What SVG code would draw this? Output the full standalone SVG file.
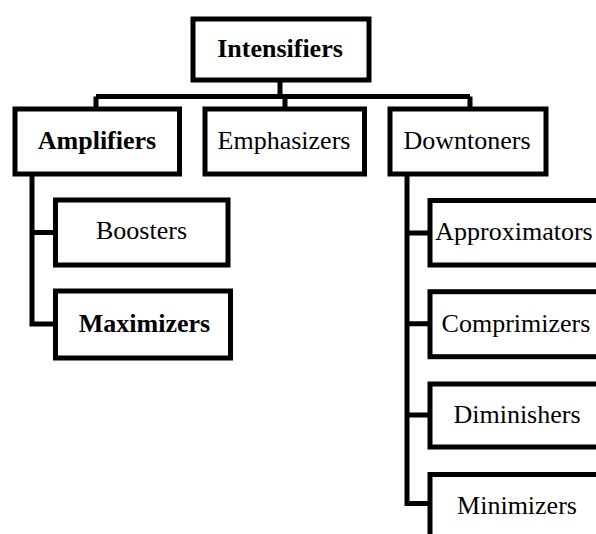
<svg xmlns="http://www.w3.org/2000/svg" width="596" height="534" viewBox="0 0 596 534">
<style>
.box{fill:#fff;stroke:#000;stroke-width:5}
.con{fill:none;stroke:#000;stroke-width:5}
text{font-family:"Liberation Serif","Times New Roman",serif;font-size:26px;fill:#000;text-anchor:middle}
.b{font-weight:bold}
</style>
<rect width="596" height="534" fill="#fff"/>
<g id="connectors">
<path class="con" d="M280 80V96.5M96 96.5H470M96 96.5V109M285 96.5V109M470 96.5V109"/>
<path class="con" d="M32 174V324H55.5M32 232.5H55.5"/>
<path class="con" d="M407 174V503.5H430M407 233H430M407 323.7H430M407 415H430"/>
</g>
<g id="intensifiers"><rect class="box" x="193" y="19" width="176" height="61"/><text class="b" x="280" y="57">Intensifiers</text></g>
<g id="amplifiers"><rect class="box" x="15" y="109" width="164.5" height="65"/><text class="b" x="97" y="148.5">Amplifiers</text></g>
<g id="emphasizers"><rect class="box" x="205" y="109" width="159.5" height="65"/><text x="284" y="148.5">Emphasizers</text></g>
<g id="downtoners"><rect class="box" x="390" y="109" width="156" height="65"/><text x="467" y="148.5">Downtoners</text></g>
<g id="boosters"><rect class="box" x="55.5" y="200" width="172.5" height="65"/><text x="141.5" y="239">Boosters</text></g>
<g id="maximizers"><rect class="box" x="55.5" y="291" width="175" height="67"/><text class="b" x="144.5" y="331.5">Maximizers</text></g>
<g id="approximators"><rect class="box" x="430" y="200.5" width="172" height="64.5"/><text x="514" y="239.5">Approximators</text></g>
<g id="comprimizers"><rect class="box" x="430" y="291.7" width="172" height="65"/><text x="516" y="331.7">Comprimizers</text></g>
<g id="diminishers"><rect class="box" x="430" y="384" width="172" height="63"/><text x="517" y="423.3">Diminishers</text></g>
<g id="minimizers"><rect class="box" x="430" y="474.5" width="172" height="70"/><text x="517" y="514">Minimizers</text></g>
</svg>
